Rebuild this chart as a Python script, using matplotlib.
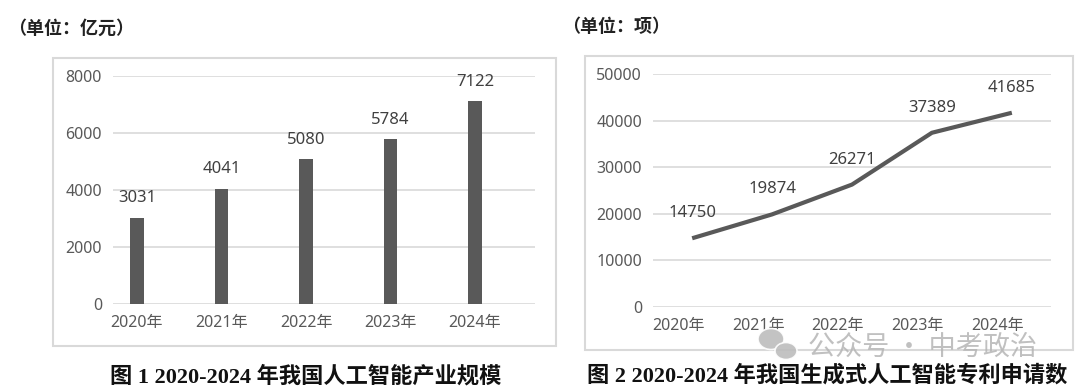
import matplotlib.pyplot as plt
import matplotlib.transforms as mtransforms
from matplotlib.patches import Rectangle, Ellipse

plt.rcParams['font.family'] = ['Noto Sans', 'Noto Sans CJK SC', 'DejaVu Sans']

years = ['2020年', '2021年', '2022年', '2023年', '2024年']
scale = [3031, 4041, 5080, 5784, 7122]        # 亿元
patents = [14750, 19874, 26271, 37389, 41685]  # 项

dark = '#595959'
grid = '#d9d9d9'
tick_c = '#595959'
cap_font = ['Liberation Serif', 'Noto Sans CJK SC']

W, H = 1080, 389
fig = plt.figure(figsize=(W / 100, H / 100), dpi=100)

def box(x0, y0, x1, y1):
    # pixel coords (top-left origin) -> figure fraction
    fig.add_artist(Rectangle((x0 / W, 1 - y1 / H), (x1 - x0) / W, (y1 - y0) / H,
                             transform=fig.transFigure, fill=False,
                             edgecolor='#d9d9d9', linewidth=1.5))

box(53, 58, 556, 346)
box(585, 56, 1073, 350)

def style(ax, ymax, step, xlim):
    ax.set_ylim(0, ymax)
    ax.set_yticks(range(0, ymax + 1, step))
    ax.set_xlim(*xlim)
    ax.set_xticks(range(5))
    ax.set_xticklabels(years)
    ax.grid(axis='y', color=grid, linewidth=1.2)
    ax.set_axisbelow(True)
    for s in ['top', 'right', 'left', 'bottom']:
        ax.spines[s].set_visible(False)
    ax.tick_params(length=0, colors=tick_c, labelsize=11.5)
    ax.tick_params(axis='x', pad=8)
    ax.tick_params(axis='y', pad=8)

# chart 1: bars
ax1 = fig.add_axes([113 / W, 1 - 304 / H, 422 / W, 228 / H])
style(ax1, 8000, 2000, (-0.284, 4.71))
ax1.bar(range(5), scale, width=0.165, color=dark, zorder=2)
for i, v in enumerate(scale):
    ax1.annotate(str(v), (i, v), xytext=(0, 14), textcoords='offset points',
                 ha='center', va='center', fontsize=12, color='#404040')

# chart 2: line
ax2 = fig.add_axes([653 / W, 1 - 307 / H, 398 / W, 233 / H])
style(ax2, 50000, 10000, (-0.49, 4.49))
ax2.plot(range(5), patents, color=dark, linewidth=3, solid_capstyle='butt', zorder=3)
for i, v in enumerate(patents):
    ax2.annotate(str(v), (i, v), xytext=(0, 18), textcoords='offset points',
                 ha='center', va='center', fontsize=12, color='#404040')
shift = mtransforms.ScaledTranslation(-0.14, 0, fig.dpi_scale_trans)
for lab in ax2.get_xticklabels():
    lab.set_transform(lab.get_transform() + shift)

# unit labels
fig.text(8 / W, 1 - 28 / H, '（单位：亿元）', fontsize=13, fontweight='bold',
         family='Noto Sans CJK SC', va='center', color='#222222')
fig.text(562 / W, 1 - 26 / H, '（单位：项）', fontsize=13, fontweight='bold',
         family='Noto Sans CJK SC', va='center', color='#222222')

# captions
fig.text(306 / W, 1 - 377 / H, '图 1 2020-2024 年我国人工智能产业规模', fontsize=16,
         fontweight='bold', family=cap_font, ha='center', va='center', color='#111111')
fig.text(827 / W, 1 - 376 / H, '图 2 2020-2024 年我国生成式人工智能专利申请数', fontsize=16,
         fontweight='bold', family=cap_font, ha='center', va='center', color='#111111')

# watermark
wm = '#bdbdbd'
for cx, cy, w, h in [(771, 339, 26, 21), (786, 351, 22, 17)]:
    fig.add_artist(Ellipse((cx / W, 1 - cy / H), w / W, h / H, transform=fig.transFigure,
                           facecolor=wm, edgecolor='white', linewidth=1.2, alpha=0.9))
fig.text(808 / W, 1 - 347 / H, '公众号 · 中考政治', fontsize=19.5, family='Noto Sans CJK SC',
         va='center', color='#b5b5b5', alpha=0.85)

fig.savefig('out.png', dpi=100)
